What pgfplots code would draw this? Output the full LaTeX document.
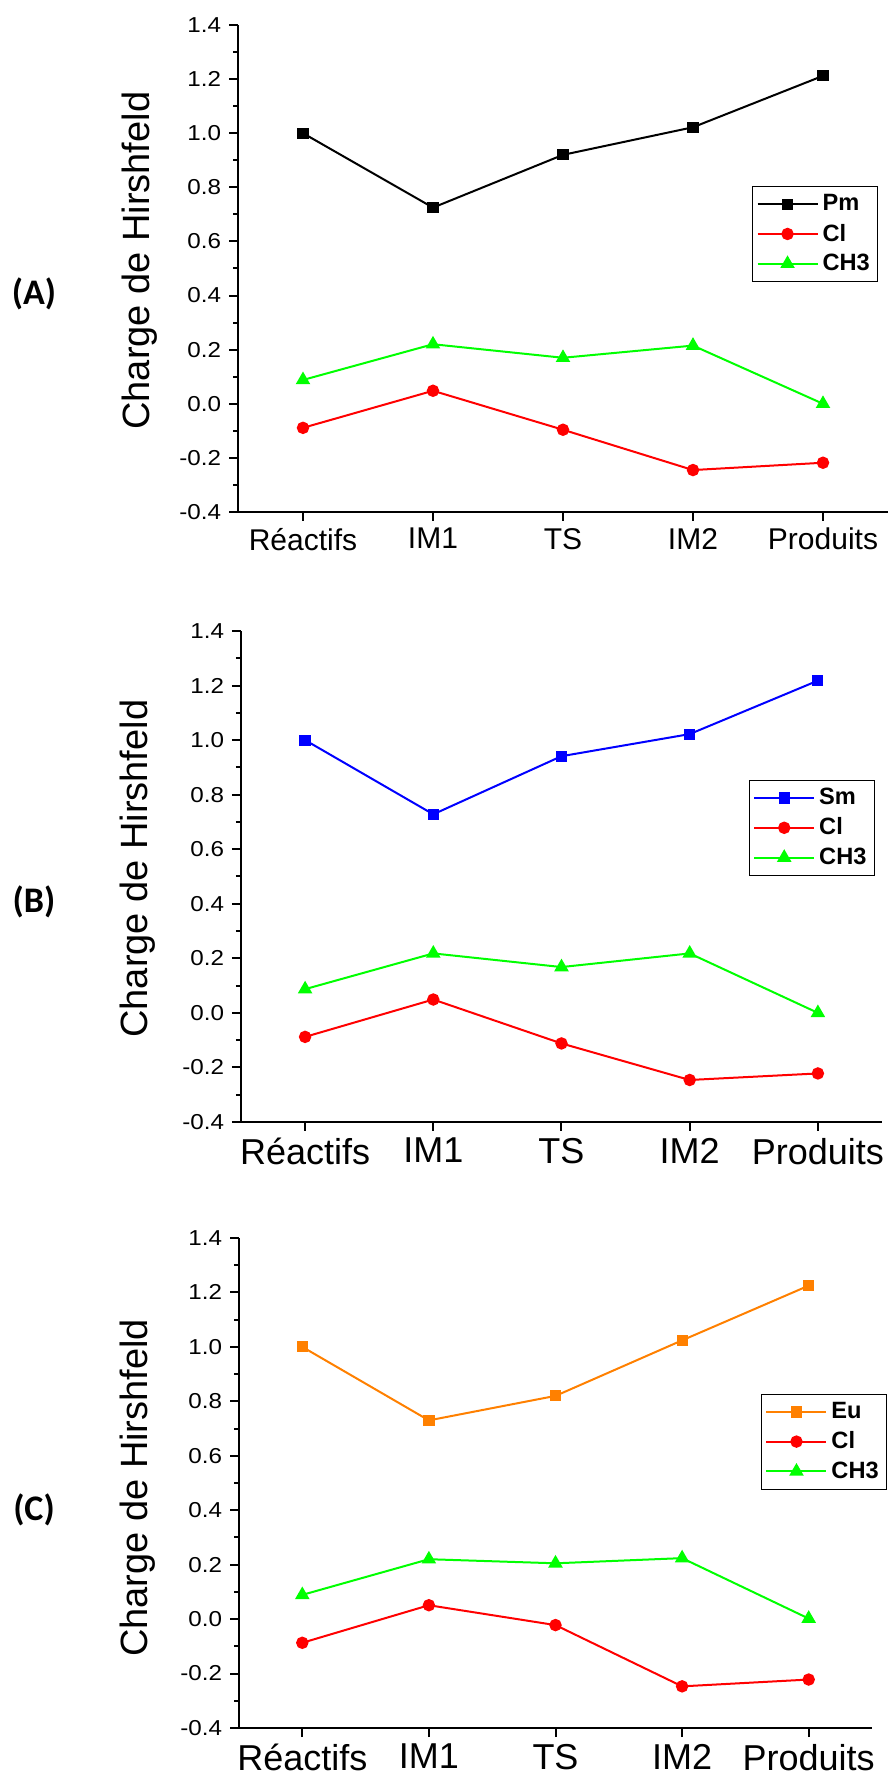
\documentclass[border=0pt]{standalone}
\usepackage{fontspec}
\setmainfont{Liberation Sans}
\newfontfamily\carlito{Carlito}
\usepackage{pgfplots}
\pgfplotsset{compat=1.18}

\definecolor{smblue}{RGB}{0,0,255}
\definecolor{euorange}{RGB}{255,128,0}
\definecolor{clred}{RGB}{255,0,0}
\definecolor{chgreen}{RGB}{0,255,0}

\pgfplotsset{
  hirsh/.style={
    scale only axis,
    xmin=-0.5, xmax=4.5,
    ymin=-0.4, ymax=1.4,
    xtick={0,...,4},
    xticklabels={Réactifs,IM1,TS,IM2,Produits},
    ytick={-0.4,-0.2,0,0.2,0.4,0.6,0.8,1.0,1.2,1.4},
    minor y tick num=1,
    axis x line=bottom, axis y line=left,
    axis line style={-, line width=1pt},
    tick style={black, line width=1pt},
    tick align=outside,
    major tick length=4.5pt, minor tick length=2.5pt,
    /pgf/number format/assume math mode=true,
    yticklabel style={font=\fontsize{10.8}{12}\selectfont, xscale=1.12,
      /pgf/number format/fixed, /pgf/number format/fixed zerofill,
      /pgf/number format/precision=1},
    ylabel={Charge de Hirshfeld},
    legend style={draw=black, line width=0.5pt,
      font=\bfseries\fontsize{11.8}{13}\selectfont,
      anchor=north east, inner sep=2pt, row sep=1pt},
    legend cell align=left,
    % line on both sides, marker in the middle
    legend image code/.code={%
      \draw (0pt,0pt) -- (30pt,0pt);
      \draw[only marks] plot coordinates {(15pt,0pt)};},
  },
  sq/.style={line width=1pt, mark=square*, mark size=2.3pt},
  ci/.style={line width=1pt, color=clred, mark=*, mark size=2.6pt},
  tr/.style={line width=1pt, color=chgreen, mark=triangle*, mark size=3.2pt},
}

\begin{document}
\begin{tikzpicture}
\useasboundingbox (0,0) rectangle (444pt,889pt);

% (A) Pm
\begin{axis}[hirsh,
  at={(119pt,633pt)}, anchor=south west,
  width=325pt, height=243.5pt,
  xticklabel style={font=\fontsize{15}{17}\selectfont},
  every axis y label/.style={at={(axis description cs:-0.152,0.516)}, rotate=90,
    anchor=center, font=\fontsize{19}{22}\selectfont},
  legend style={at={(0.985,0.669)}},
]
\addplot[sq, color=black] coordinates {(0,1.00) (1,0.725) (2,0.92) (3,1.022) (4,1.212)};
\addplot[ci] coordinates {(0,-0.089) (1,0.048) (2,-0.096) (3,-0.245) (4,-0.218)};
\addplot[tr] coordinates {(0,0.088) (1,0.22) (2,0.17) (3,0.215) (4,0.0)};
\legend{Pm, Cl, CH3}
\end{axis}

% (B) Sm
\begin{axis}[hirsh,
  at={(120.5pt,328pt)}, anchor=south west,
  width=320.5pt, height=245.5pt,
  xticklabel style={font=\fontsize{18}{20}\selectfont},
  every axis y label/.style={at={(axis description cs:-0.161,0.516)}, rotate=90,
    anchor=center, font=\fontsize{19}{22}\selectfont},
  legend style={at={(0.989,0.697)}},
]
\addplot[sq, color=smblue] coordinates {(0,1.00) (1,0.728) (2,0.941) (3,1.022) (4,1.218)};
\addplot[ci] coordinates {(0,-0.088) (1,0.049) (2,-0.112) (3,-0.246) (4,-0.222)};
\addplot[tr] coordinates {(0,0.087) (1,0.218) (2,0.168) (3,0.218) (4,0.0)};
\legend{Sm, Cl, CH3}
\end{axis}

% (C) Eu
\begin{axis}[hirsh,
  at={(119.5pt,25pt)}, anchor=south west,
  width=316.5pt, height=245pt,
  xticklabel style={font=\fontsize{18}{20}\selectfont},
  every axis y label/.style={at={(axis description cs:-0.160,0.49)}, rotate=90,
    anchor=center, font=\fontsize{19}{22}\selectfont},
  legend style={at={(1.024,0.682)}},
]
\addplot[sq, color=euorange] coordinates {(0,1.00) (1,0.73) (2,0.82) (3,1.024) (4,1.225)};
\addplot[ci] coordinates {(0,-0.087) (1,0.051) (2,-0.022) (3,-0.247) (4,-0.222)};
\addplot[tr] coordinates {(0,0.089) (1,0.22) (2,0.205) (3,0.224) (4,0.002)};
\legend{Eu, Cl, CH3}
\end{axis}

\node[font=\carlito\bfseries\fontsize{18}{20}\selectfont] at (17pt,742pt) {(A)};
\node[font=\carlito\bfseries\fontsize{18}{20}\selectfont] at (17pt,438pt) {(B)};
\node[font=\carlito\bfseries\fontsize{18}{20}\selectfont] at (17pt,134pt) {(C)};
\end{tikzpicture}
\end{document}
